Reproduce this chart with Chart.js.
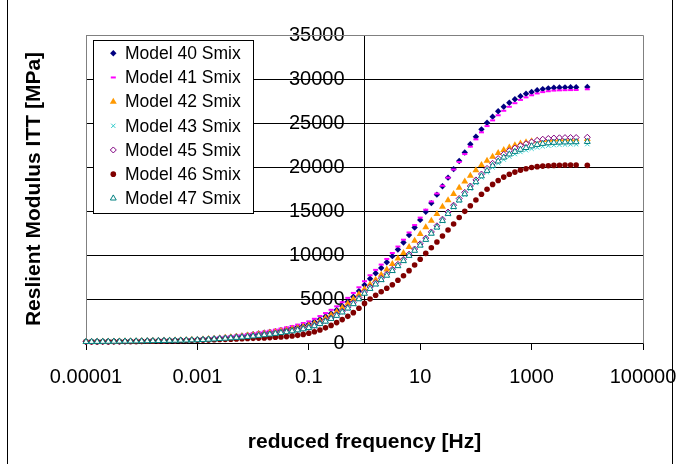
<!DOCTYPE html>
<html>
<head>
<meta charset="utf-8">
<script src="https://cdn.jsdelivr.net/npm/chart.js@4/dist/chart.umd.min.js"></script>
<style>
html, body { margin: 0; padding: 0; background: #fff; }
#wrap { width: 677px; height: 464px; }
</style>
</head>
<body>
<div id="wrap"><canvas id="modulusChart" width="677" height="464"></canvas></div>
<script>
// reduced frequency, written as log10 exponents (one row = one decade)
var freqExp = [
    -5.0, -4.9, -4.8, -4.7, -4.6, -4.5, -4.4, -4.3, -4.2, -4.1,
    -4.0, -3.9, -3.8, -3.7, -3.6, -3.5, -3.4, -3.3, -3.2, -3.1,
    -3.0, -2.9, -2.8, -2.7, -2.6, -2.5, -2.4, -2.3, -2.2, -2.1,
    -2.0, -1.9, -1.8, -1.7, -1.6, -1.5, -1.4, -1.3, -1.2, -1.1,
    -1.0, -0.9, -0.8, -0.7, -0.6, -0.5, -0.4, -0.3, -0.2, -0.1,
    0.0, 0.1, 0.2, 0.3, 0.4, 0.5, 0.6, 0.7, 0.8, 0.9,
    1.0, 1.1, 1.2, 1.3, 1.4, 1.5, 1.6, 1.7, 1.8, 1.9,
    2.0, 2.1, 2.2, 2.3, 2.4, 2.5, 2.6, 2.7, 2.8, 2.9,
    3.0, 3.1, 3.2, 3.3, 3.4, 3.5, 3.6, 3.7, 3.8, 4.0
];

// resilient modulus [MPa] per model, same order as freqExp
var m40 = [
    150, 157, 164, 171, 178, 186, 194, 202, 211, 220,
    230, 243, 257, 272, 287, 303, 321, 339, 358, 379,
    400, 438, 480, 527, 577, 632, 693, 760, 833, 913,
    1000, 1077, 1160, 1250, 1346, 1450, 1569, 1698, 1837, 1988,
    2150, 2420, 2700, 3010, 3360, 3750, 4200, 4690, 5250, 5900,
    6600, 7300, 7920, 8530, 9180, 9870, 10620, 11420, 12260, 13120,
    13990, 14920, 15900, 16860, 17820, 18790, 19760, 20680, 21650, 22580,
    23440, 24280, 25030, 25720, 26330, 26850, 27300, 27700, 28050, 28320,
    28530, 28720, 28850, 28940, 29000, 29030, 29050, 29060, 29070, 29100
];
var m41 = [
    160, 167, 175, 183, 191, 199, 208, 217, 227, 237,
    248, 262, 278, 295, 312, 330, 350, 370, 392, 415,
    440, 482, 530, 582, 640, 702, 770, 845, 926, 1015,
    1110, 1200, 1295, 1400, 1515, 1640, 1780, 1930, 2090, 2270,
    2460, 2750, 3060, 3400, 3770, 4170, 4630, 5130, 5690, 6330,
    7020, 7700, 8310, 8910, 9550, 10230, 10960, 11740, 12560, 13400,
    14250, 15150, 16080, 16980, 17870, 18790, 19710, 20570, 21470, 22310,
    23140, 23940, 24650, 25300, 25880, 26390, 26840, 27250, 27620, 27910,
    28150, 28360, 28510, 28610, 28680, 28710, 28730, 28740, 28750, 28830
];
var m42 = [
    145, 151, 157, 164, 171, 178, 186, 194, 202, 211,
    220, 232, 245, 259, 274, 290, 306, 323, 341, 360,
    380, 415, 454, 496, 541, 591, 646, 706, 771, 842,
    920, 994, 1073, 1159, 1252, 1353, 1461, 1578, 1705, 1842,
    1990, 2230, 2510, 2820, 3170, 3560, 4000, 4480, 5000, 5550,
    6150, 6680, 7200, 7760, 8360, 8980, 9600, 10240, 10920, 11620,
    12380, 13150, 13900, 14670, 15470, 16230, 16940, 17650, 18340, 19010,
    19640, 20220, 20720, 21170, 21580, 21930, 22230, 22480, 22680, 22820,
    22930, 23010, 23070, 23110, 23130, 23140, 23150, 23150, 23160, 23180
];
var m43 = [
    140, 146, 152, 158, 165, 172, 180, 188, 196, 204,
    213, 223, 233, 244, 256, 268, 281, 294, 308, 322,
    337, 366, 397, 431, 468, 508, 552, 599, 651, 707,
    767, 831, 900, 975, 1056, 1143, 1238, 1341, 1452, 1573,
    1704, 1918, 2161, 2434, 2742, 3088, 3477, 3915, 4410, 4966,
    5590, 6140, 6640, 7140, 7640, 8170, 8730, 9300, 9890, 10470,
    11060, 11700, 12400, 13100, 13840, 14630, 15400, 16140, 16830, 17520,
    18170, 18810, 19400, 19940, 20420, 20840, 21180, 21460, 21700, 21900,
    22070, 22220, 22340, 22420, 22480, 22520, 22550, 22570, 22580, 22600
];
var m45 = [
    145, 151, 158, 165, 172, 180, 188, 196, 204, 213,
    222, 232, 243, 255, 267, 279, 292, 306, 320, 335,
    350, 380, 413, 448, 487, 529, 574, 624, 677, 736,
    800, 866, 938, 1016, 1100, 1192, 1291, 1398, 1514, 1640,
    1776, 1999, 2250, 2533, 2851, 3209, 3612, 4066, 4577, 5152,
    5800, 6350, 6850, 7350, 7850, 8380, 8940, 9510, 10100, 10680,
    11270, 11920, 12620, 13320, 14070, 14880, 15660, 16420, 17120, 17840,
    18530, 19200, 19840, 20420, 20960, 21440, 21840, 22150, 22420, 22640,
    22850, 23030, 23160, 23240, 23290, 23320, 23340, 23350, 23350, 23380
];
var m46 = [
    130, 135, 140, 146, 152, 157, 163, 170, 177, 183,
    190, 200, 211, 222, 234, 247, 260, 274, 288, 304,
    320, 337, 354, 372, 392, 412, 434, 456, 480, 505,
    530, 555, 582, 612, 646, 685, 730, 790, 870, 975,
    1110, 1280, 1480, 1720, 2000, 2320, 2660, 3030, 3450, 3950,
    4500, 5000, 5420, 5830, 6220, 6620, 7130, 7650, 8220, 8860,
    9510, 10190, 10830, 11480, 12160, 12840, 13520, 14260, 14960, 15600,
    16250, 16900, 17480, 18020, 18460, 18850, 19170, 19420, 19640, 19800,
    19940, 20040, 20100, 20150, 20180, 20200, 20220, 20230, 20230, 20190
];
var m47 = [
    140, 146, 152, 159, 166, 173, 181, 189, 197, 205,
    214, 224, 235, 246, 258, 270, 283, 296, 310, 324,
    339, 368, 400, 434, 472, 512, 556, 604, 656, 712,
    773, 837, 907, 982, 1063, 1151, 1247, 1350, 1462, 1583,
    1715, 1931, 2175, 2450, 2759, 3107, 3498, 3939, 4436, 4995,
    5620, 6170, 6670, 7170, 7670, 8200, 8760, 9330, 9920, 10500,
    11090, 11740, 12440, 13140, 13890, 14690, 15470, 16220, 16920, 17630,
    18300, 18960, 19580, 20140, 20650, 21090, 21450, 21740, 21980, 22180,
    22370, 22530, 22650, 22720, 22770, 22800, 22820, 22830, 22840, 22870
];

var seriesNames = ['Model 40 Smix', 'Model 41 Smix', 'Model 42 Smix', 'Model 43 Smix',
                   'Model 45 Smix', 'Model 46 Smix', 'Model 47 Smix'];
var seriesValues = [m40, m41, m42, m43, m45, m46, m47];

var xTicks = [0.00001, 0.001, 0.1, 10, 1000, 100000];
var xTickLabels = ['0.00001', '0.001', '0.1', '10', '1000', '100000'];
var yTicks = [0, 5000, 10000, 15000, 20000, 25000, 30000, 35000];

// marker look for each series (excel style)
var markers = [
    { style: 'rectRot',  r: 3.2, line: '#000080', fill: '#000080', bw: 0 },
    { style: 'line',     r: 2.5, line: '#FF00FF', fill: '#FF00FF', bw: 2 },
    { style: 'triangle', r: 4,   line: '#FF9900', fill: '#FF9900', bw: 0 },
    { style: 'crossRot', r: 3,   line: '#33CCCC', fill: '#33CCCC', bw: 1 },
    { style: 'rectRot',  r: 3,   line: '#800080', fill: '#FFFFFF', bw: 1 },
    { style: 'circle',   r: 2.8, line: '#800000', fill: '#800000', bw: 0 },
    { style: 'triangle', r: 3.4, line: '#008080', fill: '#FFFFFF', bw: 1 }
];

var freq = freqExp.map(function(e) { return Math.pow(10, e); });

var datasets = seriesValues.map(function(vals, i) {
    var m = markers[i];
    return {
        label: seriesNames[i],
        data: vals.map(function(v, k) { return { x: freq[k], y: v }; }),
        pointStyle: m.style,
        pointRadius: m.r,
        pointHoverRadius: m.r,
        pointBorderWidth: m.bw,
        borderWidth: m.bw,
        borderColor: m.line,
        backgroundColor: m.fill,
        order: seriesValues.length - i,   // later series on top, like excel
        clip: false
    };
});

function crisp(p) { return Math.round(p - 0.5) + 0.5; }

// outer frame + grey plot-area border
var framePlugin = {
    id: 'frame',
    beforeDraw: function(chart) {
        // y axis sits at f = 1, its labels stand 20px left of it
        var items = chart.scales.y.getLabelItems(chart.chartArea);
        if (!items._moved) {
            items.forEach(function(it) { it.options.translation[0] -= 20; });
            items._moved = true;
        }
    },
    beforeDatasetsDraw: function(chart) {
        var c = chart.ctx, a = chart.chartArea;
        c.save();
        c.strokeStyle = '#808080';
        c.lineWidth = 1;
        c.beginPath();
        c.moveTo(crisp(a.left), crisp(a.bottom));
        c.lineTo(crisp(a.left), crisp(a.top));
        c.lineTo(crisp(a.right), crisp(a.top));
        c.lineTo(crisp(a.right), crisp(a.bottom));
        c.stroke();
        c.restore();
    },
    afterDraw: function(chart) {
        var c = chart.ctx;
        c.save();
        c.strokeStyle = '#000';
        c.lineWidth = 1;
        c.beginPath();
        c.moveTo(7.5, 0); c.lineTo(7.5, chart.height);
        c.moveTo(672.5, 0); c.lineTo(672.5, chart.height);
        c.stroke();
        c.restore();
    }
};

// legend box sitting inside the plot, top left
var boxLegend = {
    id: 'boxLegend',
    afterDatasetsDraw: function(chart) {
        var c = chart.ctx;
        var x0 = 93.5, y0 = 40.5, w = 160, h = 173;
        c.save();
        c.fillStyle = '#fff';
        c.fillRect(x0, y0, w, h);
        c.strokeStyle = '#000';
        c.lineWidth = 1;
        c.strokeRect(x0, y0, w, h);
        c.font = '17.5px "Liberation Sans", Arial, sans-serif';
        c.textBaseline = 'middle';
        c.textAlign = 'left';
        chart.data.datasets.forEach(function(ds, i) {
            var y = 53.3 + i * 24.17;
            c.fillStyle = ds.backgroundColor;
            c.strokeStyle = ds.borderColor;
            c.lineWidth = ds.borderWidth;
            Chart.helpers.drawPoint(c, {
                pointStyle: ds.pointStyle, radius: ds.pointRadius,
                rotation: 0, borderWidth: ds.borderWidth
            }, 113.3, y);
            c.fillStyle = '#000';
            c.fillText(ds.label, 125, y + 1);
        });
        c.restore();
    }
};

Chart.defaults.font.family = '"Liberation Sans", Arial, sans-serif';
Chart.defaults.color = '#000';

var ctx = document.getElementById('modulusChart').getContext('2d');

var modulusChart = new Chart(ctx, {
    type: 'scatter',
    data: { datasets: datasets },
    options: {
        responsive: false,
        animation: false,
        events: [],
        layout: { padding: { left: 0, right: 34, top: 35, bottom: 0 } },
        plugins: {
            legend: { display: false },
            tooltip: { enabled: false }
        },
        scales: {
            x: {
                type: 'logarithmic',
                min: 0.00001,
                max: 100000,
                afterBuildTicks: function(scale) {
                    scale.ticks = xTicks.map(function(v) { return { value: v }; });
                },
                afterFit: function(scale) {
                    scale.height = 121;
                    // last label may run under the frame, as in the original
                    scale.paddingRight = 0;
                    scale.paddingLeft = 0;
                },
                ticks: {
                    font: { size: 20 },
                    padding: 15,
                    maxRotation: 0,
                    autoSkip: false,
                    callback: function(value) {
                        var i = xTicks.findIndex(function(t) { return Math.abs(Math.log10(t) - Math.log10(value)) < 1e-6; });
                        return i >= 0 ? xTickLabels[i] : '';
                    }
                },
                grid: { drawOnChartArea: false, tickLength: 7, color: '#000' },
                border: { color: '#000' },
                title: {
                    display: true,
                    text: 'reduced frequency [Hz]',
                    font: { size: 21, weight: 'bold' },
                    padding: { top: 0, bottom: 9 }
                }
            },
            y: {
                position: { x: 1 },
                min: 0,
                max: 35000,
                afterBuildTicks: function(scale) {
                    scale.ticks = yTicks.map(function(v) { return { value: v }; });
                },
                ticks: {
                    font: { size: 20 },
                    padding: 13,
                    callback: function(value) { return String(value); }
                },
                grid: {
                    tickLength: 7,
                    color: function(c) { return c.tick && c.tick.value === 35000 ? '#808080' : '#000'; }
                },
                border: { color: '#000' }
            },
            yTitle: {
                position: 'left',
                ticks: { display: false },
                grid: { display: false },
                border: { display: false },
                afterFit: function(scale) { scale.width = 86; },
                title: {
                    display: true,
                    text: 'Reslient Modulus ITT [MPa]',
                    font: { size: 21, weight: 'bold' },
                    padding: { top: 22, bottom: 0 }
                }
            }
        }
    },
    plugins: [framePlugin, boxLegend]
});
</script>
</body>
</html>
